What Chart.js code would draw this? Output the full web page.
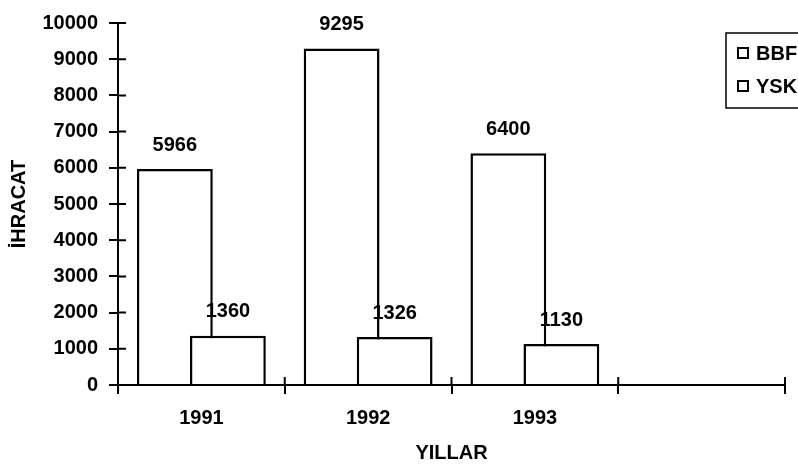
<!DOCTYPE html>
<html>
<head>
<meta charset="utf-8">
<script src="https://cdn.jsdelivr.net/npm/chart.js@4/dist/chart.umd.min.js"></script>
<style>
html,body{margin:0;padding:0;background:#fff;}
canvas{display:block;}
</style>
</head>
<body>
<canvas id="c" width="798" height="466"></canvas>
<script>
const years = ['1991', '1992', '1993', ''];
const bbfValues = [5966, 9295, 6400, null];
const yskValues = [1360, 1326, 1130, null];
const seriesNames = ['BBF', 'YSK'];
const yAxisTitle = 'İHRACAT';
const xAxisTitle = 'YILLAR';

const FONT = '"Liberation Sans", Arial, sans-serif';
const FS = 20;

// Draw BBF first so YSK overlaps it
const drawOrder = {
  id: 'drawOrder',
  beforeDatasetsDraw(chart) {
    chart.getDatasetMeta(0).controller.draw();
  },
  beforeDatasetDraw(chart, args) {
    if (args.index === 0) return false;
  }
};

// inner half of tick marks (ticks cross the axes)
const innerTicks = {
  id: 'innerTicks',
  afterDraw(chart) {
    const ctx = chart.ctx;
    const x = chart.scales.x, y = chart.scales.y;
    ctx.save();
    ctx.strokeStyle = '#000';
    ctx.lineWidth = 2;
    ctx.beginPath();
    y.ticks.forEach((t, i) => {
      const py = y.getPixelForTick(i);
      ctx.moveTo(x.left, py);
      ctx.lineTo(x.left + 8, py);
    });
    const n = x.ticks.length;
    const w = (x.right - x.left) / n;
    for (let i = 0; i <= n; i++) {
      const px = x.left + i * w;
      ctx.moveTo(px, y.bottom);
      ctx.lineTo(px, y.bottom - 8);
    }
    ctx.stroke();
    ctx.restore();
  }
};

const valueLabels = {
  id: 'valueLabels',
  afterDatasetsDraw(chart) {
    const ctx = chart.ctx;
    ctx.save();
    ctx.fillStyle = '#000';
    ctx.font = 'bold ' + FS + 'px ' + FONT;
    ctx.textAlign = 'center';
    ctx.textBaseline = 'middle';
    chart.data.datasets.forEach((ds, di) => {
      const meta = chart.getDatasetMeta(di);
      meta.data.forEach((el, i) => {
        const v = ds.data[i];
        if (v === null || v === undefined) return;
        ctx.fillText(String(v), el.x, el.y - 24);
      });
    });
    ctx.restore();
  }
};

const boxLegend = {
  id: 'boxLegend',
  afterDraw(chart) {
    const ctx = chart.ctx;
    const bx = 726, by = 33, bw = 90, bh = 75;
    ctx.save();
    ctx.strokeStyle = '#000';
    ctx.lineWidth = 1.5;
    ctx.fillStyle = '#fff';
    ctx.fillRect(bx, by, bw, bh);
    ctx.strokeRect(bx, by, bw, bh);
    ctx.font = 'bold ' + FS + 'px ' + FONT;
    ctx.textBaseline = 'middle';
    ctx.textAlign = 'left';
    ctx.lineWidth = 2;
    chart.data.datasets.forEach((ds, i) => {
      const cy = 53 + i * 33;
      ctx.fillStyle = ds.backgroundColor;
      ctx.fillRect(738, cy - 5, 10, 10);
      ctx.strokeRect(738, cy - 5, 10, 10);
      ctx.fillStyle = '#000';
      ctx.fillText(ds.label, 756, cy + 1);
    });
    ctx.restore();
  }
};

new Chart(document.getElementById('c'), {
  type: 'bar',
  data: {
    labels: years,
    datasets: [
      { label: seriesNames[0], data: bbfValues, backgroundColor: '#ffffff', borderColor: '#000000', borderWidth: 2.5, borderSkipped: 'bottom' },
      { label: seriesNames[1], data: yskValues, backgroundColor: '#ffffff', borderColor: '#000000', borderWidth: 2.5, borderSkipped: 'bottom' }
    ]
  },
  options: {
    responsive: false,
    devicePixelRatio: 1,
    animation: false,
    categoryPercentage: 0.636,
    barPercentage: 1.43,
    layout: { padding: { left: 0, top: 19, right: 13, bottom: 0 } },
    plugins: {
      legend: { display: false },
      tooltip: { enabled: false },
      title: { display: false }
    },
    scales: {
      x: {
        grid: { display: true, drawOnChartArea: false, offset: true, color: '#000', lineWidth: 2, tickLength: 9 },
        border: { display: true, color: '#000', width: 2 },
        ticks: { color: '#000', font: { family: FONT, size: FS, weight: 'bold' }, padding: 12, maxRotation: 0 },
        title: { display: true, text: xAxisTitle, color: '#000', font: { family: FONT, size: FS, weight: 'bold' }, padding: { top: 0, bottom: 1 } },
        afterFit(scale) { scale.height = 81; }
      },
      y: {
        min: 0,
        max: 10000,
        ticks: { stepSize: 1000, color: '#000', font: { family: FONT, size: FS, weight: 'bold' }, padding: 11, callback: (v) => String(v) },
        grid: { display: true, drawOnChartArea: false, color: '#000', lineWidth: 2, tickLength: 9 },
        border: { display: true, color: '#000', width: 2 },
        title: { display: true, text: yAxisTitle, color: '#000', font: { family: FONT, size: FS, weight: 'bold' }, padding: { top: 7, bottom: 0 } },
        afterFit(scale) { scale.width = 118; }
      }
    }
  },
  plugins: [drawOrder, innerTicks, valueLabels, boxLegend]
});
</script>
</body>
</html>
